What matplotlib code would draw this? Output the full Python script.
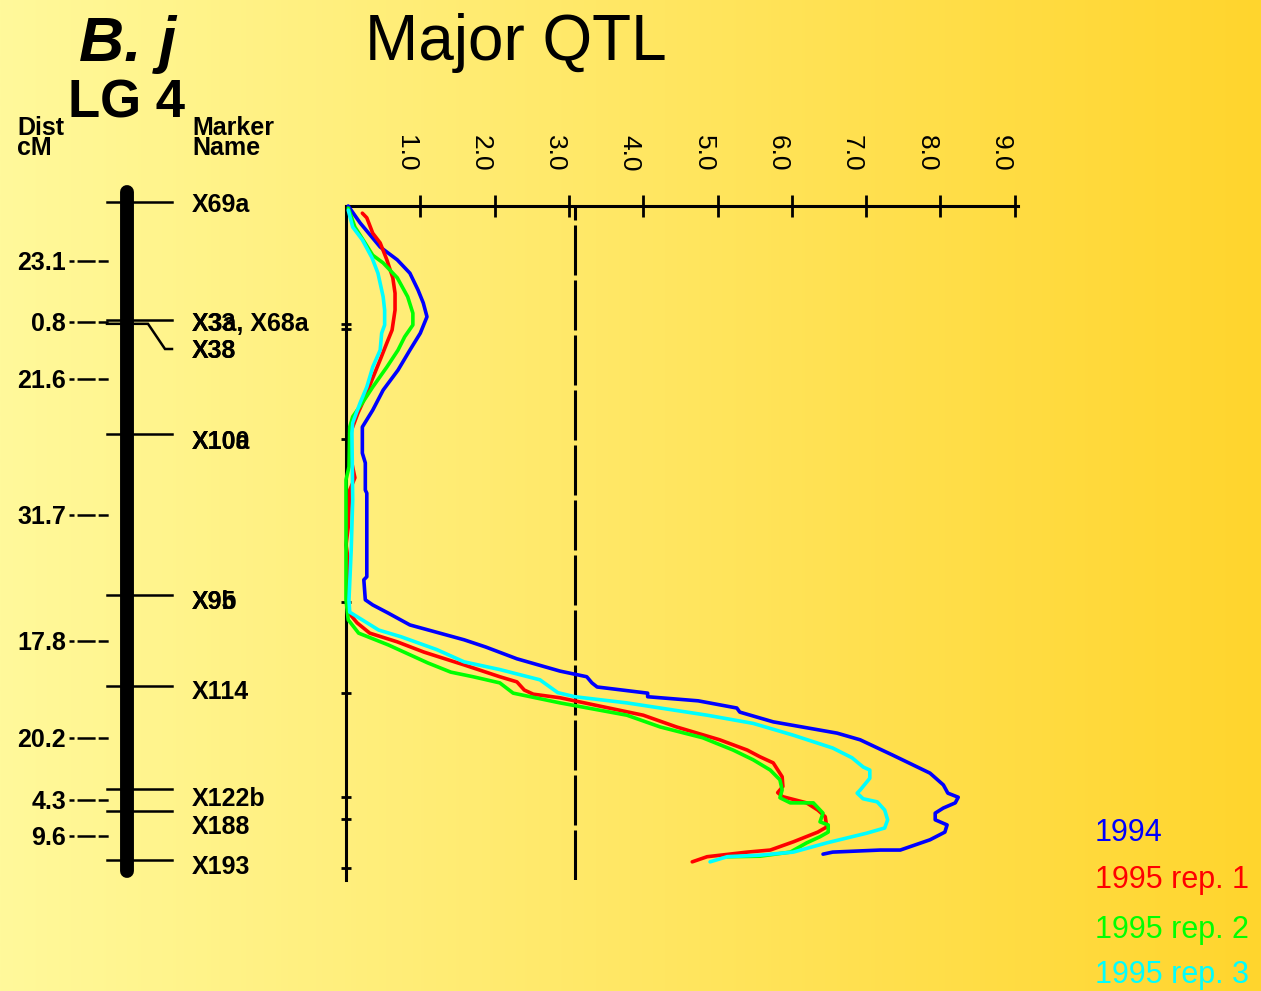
import numpy as np
import matplotlib
matplotlib.use("Agg")
import matplotlib.pyplot as plt
from matplotlib.transforms import ScaledTranslation

plt.rcParams['lines.scale_dashes'] = False
plt.rcParams['font.family'] = ['Liberation Sans', 'DejaVu Sans']

# ---------------- data ----------------
distances = [23.1, 0.8, 21.6, 31.7, 17.8, 20.2, 4.3, 9.6]
markers = ["X69a", "X3a, X68a", "X38", "X10a", "X9b", "X114", "X122b", "X188", "X193"]
marker_overprint = ["", "X33", "X33", "X100", "X95", "", "", "", ""]
lod_ticks = [1.0, 2.0, 3.0, 4.0, 5.0, 6.0, 7.0, 8.0, 9.0]
threshold = 3.08
series_names = ["1994", "1995 rep. 1", "1995 rep. 2", "1995 rep. 3"]
series_colors = ["#0000FF", "#FF0000", "#00FF00", "#00FFFF"]

lod_1994 = [0.03, 0.19, 0.46, 0.69, 0.86, 0.97, 1.04, 1.09, 1.00, 0.86, 0.70, 0.50, 0.36, 0.22,
            0.22, 0.26, 0.26, 0.28, 0.28, 0.24, 0.26, 0.36, 0.57, 0.86, 1.59, 1.88, 2.30, 2.88,
            3.24, 3.31, 3.38, 4.06, 4.06, 4.74, 5.26, 5.30, 5.75, 6.61, 6.92, 7.36, 7.86, 8.04,
            8.10, 8.24, 8.20, 8.04, 7.93, 7.93, 8.09, 8.06, 7.86, 7.46, 7.19, 6.55, 6.42]
cm_1994 = [0.0, 3.3, 8.0, 10.5, 13.1, 16.4, 18.9, 21.6, 24.8, 28.1, 32.0, 35.9, 39.8, 43.1,
           48.2, 50.1, 55.4, 56.0, 72.3, 72.9, 76.8, 77.8, 79.4, 81.7, 84.6, 86.0, 88.3, 90.7,
           91.8, 93.0, 93.8, 95.0, 95.7, 96.5, 97.9, 98.7, 100.6, 102.8, 104.1, 107.1, 110.6, 112.9,
           114.5, 115.3, 116.4, 117.4, 118.4, 119.7, 120.7, 122.1, 123.6, 125.6, 125.6, 126.0, 126.4]

lod_rep1 = [0.22, 0.28, 0.36, 0.46, 0.55, 0.63, 0.66, 0.66, 0.62, 0.55, 0.46, 0.35, 0.26, 0.16,
            0.09, 0.05, 0.07, 0.12, 0.05, 0.03, 0.00, 0.03, 0.03, 0.03, 0.15, 0.32, 0.69, 1.05,
            1.59, 2.07, 2.30, 2.40, 2.52, 2.88, 4.00, 4.45, 5.03, 5.40, 5.57, 5.75, 5.87, 5.88,
            5.81, 5.88, 6.20, 6.35, 6.45, 6.47, 6.35, 6.02, 5.71, 5.40, 4.86, 4.66]
cm_rep1 = [1.4, 2.3, 5.3, 7.2, 10.5, 14.0, 17.0, 20.3, 24.2, 26.7, 30.0, 33.9, 37.2, 40.4,
           43.1, 44.3, 49.5, 53.0, 55.4, 62.6, 66.1, 69.0, 76.8, 79.2, 81.3, 83.3, 85.0, 87.0,
           89.5, 91.8, 92.8, 94.4, 95.2, 95.9, 99.3, 101.6, 104.1, 106.1, 107.4, 108.6, 111.3, 113.2,
           114.4, 115.2, 116.4, 117.8, 119.1, 121.1, 122.1, 124.0, 125.6, 126.0, 126.9, 127.9]

lod_rep2 = [0.03, 0.12, 0.23, 0.36, 0.50, 0.69, 0.83, 0.90, 0.90, 0.79, 0.70, 0.55, 0.36, 0.22,
            0.09, 0.05, 0.04, 0.00, 0.00, 0.03, 0.17, 0.57, 1.10, 1.41, 1.71, 2.07, 2.25, 2.88,
            3.78, 4.23, 4.80, 5.21, 5.48, 5.71, 5.84, 5.87, 5.84, 5.98, 6.29, 6.42, 6.38, 6.49,
            6.49, 6.38, 6.20, 5.98, 5.57, 5.13]
cm_rep2 = [0.4, 4.1, 6.6, 9.6, 11.1, 14.0, 17.7, 20.9, 23.2, 25.5, 28.1, 31.4, 35.3, 38.4,
           41.1, 43.1, 50.9, 53.4, 76.8, 80.7, 83.3, 85.6, 89.1, 90.9, 91.8, 93.0, 95.0, 96.9,
           99.3, 101.6, 103.7, 106.1, 108.0, 110.0, 111.9, 113.9, 115.4, 116.4, 116.4, 118.4, 120.1, 120.7,
           122.1, 123.0, 124.2, 126.0, 126.8, 126.9]

lod_rep3 = [0.03, 0.09, 0.22, 0.35, 0.43, 0.50, 0.52, 0.52, 0.48, 0.46, 0.36, 0.28, 0.19, 0.09,
            0.08, 0.09, 0.07, 0.04, 0.05, 0.44, 0.74, 1.22, 1.59, 2.07, 2.61, 2.85, 3.08, 3.78,
            4.86, 5.48, 6.02, 6.55, 6.81, 6.96, 7.05, 7.05, 6.92, 6.88, 6.96, 7.15, 7.25, 7.29,
            7.25, 7.01, 6.47, 6.02, 5.57, 5.13, 4.90]
cm_rep3 = [0.8, 4.1, 6.6, 10.1, 13.1, 17.7, 20.3, 23.2, 24.8, 28.1, 31.4, 35.3, 38.4, 42.3,
           44.3, 57.3, 67.1, 76.8, 79.2, 82.7, 84.0, 86.5, 88.9, 90.4, 92.4, 94.9, 95.7, 96.9,
           99.3, 100.9, 103.2, 105.7, 107.6, 109.4, 110.0, 111.6, 113.9, 114.5, 115.6, 116.2, 117.8, 119.7,
           121.3, 122.3, 124.2, 126.0, 126.6, 126.9, 127.9]

series_lod = [lod_1994, lod_rep1, lod_rep2, lod_rep3]
series_cm = [cm_1994, cm_rep1, cm_rep2, cm_rep3]

# ---------------- figure ----------------
W, H = 1261, 991
fig = plt.figure(figsize=(W / 100, H / 100), dpi=100)

# background gradient
bg = fig.add_axes([0, 0, 1, 1], zorder=0)
c_left = np.array([255, 249, 155]) / 255.0
c_right = np.array([255, 213, 45]) / 255.0
t = np.linspace(0, 1, 512)[None, :, None]
grad = c_left[None, None, :] * (1 - t) + c_right[None, None, :] * t
bg.imshow(grad, aspect='auto', extent=[0, 1, 0, 1])
bg.set_axis_off()

# ---------------- QTL axes ----------------
PX_LOD = 74.3
ax_l, ax_r, ax_t, ax_b = 346, 1018, 206, 880
ymax_cm = 131.44
ax = fig.add_axes([ax_l / W, 1 - ax_b / H, (ax_r - ax_l) / W, (ax_b - ax_t) / H], zorder=2)
ax.patch.set_visible(False)
ax.set_xlim(0, (ax_r - ax_l) / PX_LOD)
ax.set_ylim(ymax_cm, 0)
for s in ['right', 'bottom']:
    ax.spines[s].set_visible(False)
for s in ['top', 'left']:
    ax.spines[s].set_linewidth(2.2)
ax.xaxis.set_ticks_position('top')
ax.set_xticks(lod_ticks)
ax.tick_params(axis='x', direction='inout', length=16, width=2.0, labeltop=False, labelbottom=False)
marker_pos = np.concatenate([[0], np.cumsum(distances)])
ax.set_yticks(marker_pos[1:])
ax.tick_params(axis='y', direction='inout', length=6.5, width=2.0, labelleft=False)

off = ScaledTranslation(-14 / 100, 53 / 100, fig.dpi_scale_trans)
for v in lod_ticks:
    ax.text(v, 0, f"{v:.1f}", rotation=270, ha='center', va='center', fontsize=19,
            transform=ax.transData + off)

ax.axvline(threshold, color='black', lw=2.2, dashes=(36, 3.6), zorder=1)

for lod, cm, col in zip(series_lod, series_cm, series_colors):
    ax.plot(lod, cm, color=col, lw=2.6, solid_joinstyle='round', solid_capstyle='round',
            clip_on=False, zorder=3)

# ---------------- linkage map axes (y in cM) ----------------
MAP_TOP = 202
MAP_PX_CM = 5.097
axm = fig.add_axes([0, 0, 1, 1], zorder=3)
axm.patch.set_visible(False)
axm.set_xlim(0, W)
axm.set_ylim((H - MAP_TOP) / MAP_PX_CM, -MAP_TOP / MAP_PX_CM)
axm.set_axis_off()

axm.plot([127, 127], [-1.96, 131.3], color='black', lw=10, solid_capstyle='round')

for i, p in enumerate(marker_pos):
    if i == 2:
        continue
    axm.plot([107, 172], [p, p], color='black', lw=1.8)
# leader for close marker X38
lab_y = (349 - MAP_TOP) / MAP_PX_CM
axm.plot([107, 148, 165, 172], [marker_pos[2], marker_pos[2], lab_y, lab_y],
         color='black', lw=1.8, solid_joinstyle='miter')

bl = ScaledTranslation(0, -9 / 100, fig.dpi_scale_trans)
label_px = [203, 322, 349, 440, 600, 690, 797, 825, 865]
for name, over, ly in zip(markers, marker_overprint, label_px):
    yc = (ly - MAP_TOP) / MAP_PX_CM
    axm.text(192, yc, name, fontsize=18, fontweight='bold', ha='left', va='baseline',
             transform=axm.transData + bl)
    if over:
        axm.text(192, yc, over, fontsize=18, fontweight='bold', ha='left', va='baseline',
                 transform=axm.transData + bl)

for i, d in enumerate(distances):
    mid = (marker_pos[i] + marker_pos[i + 1]) / 2
    axm.text(66, mid, f"{d:.1f}", fontsize=18, fontweight='bold', ha='right', va='baseline',
             transform=axm.transData + bl)
    axm.plot([69, 110], [mid, mid], color='black', lw=1.8,
             dashes=(3.6, 2.2, 13.0, 2.2, 7.2, 40))

# ---------------- pixel overlay for titles/legend ----------------
axp = fig.add_axes([0, 0, 1, 1], zorder=4)
axp.patch.set_visible(False)
axp.set_xlim(0, W)
axp.set_ylim(H, 0)
axp.set_axis_off()

axp.text(128, 61, "B. j", fontsize=45, fontweight='bold', fontstyle='italic', ha='center', va='baseline')
axp.text(127, 118, "LG 4", fontsize=38, fontweight='bold', ha='center', va='baseline')
axp.text(365, 60, "Major QTL", fontsize=46, ha='left', va='baseline')
axp.text(17, 135, "Dist", fontsize=18, fontweight='bold', ha='left', va='baseline')
axp.text(17, 155, "cM", fontsize=18, fontweight='bold', ha='left', va='baseline')
axp.text(192, 135, "Marker", fontsize=18, fontweight='bold', ha='left', va='baseline')
axp.text(192, 155, "Name", fontsize=18, fontweight='bold', ha='left', va='baseline')

legend_y = [841, 888, 938, 983]
for name, col, y in zip(series_names, series_colors, legend_y):
    axp.text(1095, y, name, fontsize=22, color=col, ha='left', va='baseline')

fig.savefig("out.png", dpi=100)
